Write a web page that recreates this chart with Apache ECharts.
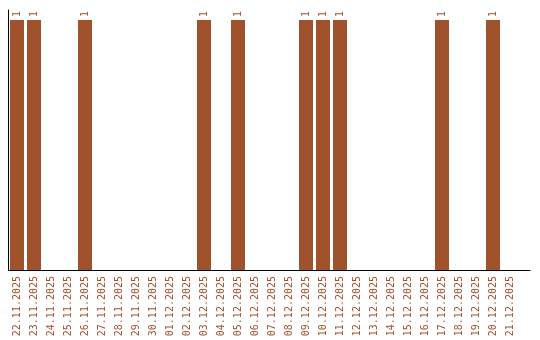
<!DOCTYPE html>
<html>
<head>
<meta charset="utf-8">
<script src="https://cdn.jsdelivr.net/npm/echarts@6/dist/echarts.min.js"></script>
<style>html,body{margin:0;padding:0;background:#fff;}#c{width:540px;height:340px;}</style>
</head>
<body>
<div id="c"></div>
<script>
var categories = ['22.11.2025','23.11.2025','24.11.2025','25.11.2025','26.11.2025','27.11.2025','28.11.2025','29.11.2025','30.11.2025','01.12.2025','02.12.2025','03.12.2025','04.12.2025','05.12.2025','06.12.2025','07.12.2025','08.12.2025','09.12.2025','10.12.2025','11.12.2025','12.12.2025','13.12.2025','14.12.2025','15.12.2025','16.12.2025','17.12.2025','18.12.2025','19.12.2025','20.12.2025','21.12.2025'];
var values = [1,1,0,0,1,0,0,0,0,0,0,1,0,1,0,0,0,1,1,1,0,0,0,0,0,1,0,0,1,0];

var color = '#A0522D';
var font = 'DejaVu Sans Mono';
var chart = echarts.init(document.getElementById('c'), null, {renderer: 'canvas'});
chart.setOption({
  animation: false,
  grid: [
    {left: 8.5, right: 21.5, top: 10, bottom: 70},
    {left: 8.5, right: 10, top: 10, bottom: 70}
  ],
  xAxis: [
    {
      type: 'category', gridIndex: 0, data: categories,
      axisLine: {show: true, lineStyle: {color: '#000', width: 1}},
      axisTick: {show: false},
      axisLabel: {rotate: 90, interval: 0, margin: 6, color: color, fontFamily: font, fontSize: 10}
    },
    {
      type: 'value', gridIndex: 1, min: 0, max: 1,
      axisLine: {show: true, onZero: false, lineStyle: {color: '#000', width: 1}},
      axisTick: {show: false}, axisLabel: {show: false}, splitLine: {show: false}
    }
  ],
  yAxis: [
    {
      type: 'value', gridIndex: 0, min: 0, max: 1.04,
      axisLine: {show: true, lineStyle: {color: '#000', width: 1}},
      axisTick: {show: false}, axisLabel: {show: false}, splitLine: {show: false}
    },
    {
      type: 'value', gridIndex: 1, min: 0, max: 1, show: false
    }
  ],
  series: [{
    type: 'bar', xAxisIndex: 0, yAxisIndex: 0,
    data: values,
    barWidth: 14,
    itemStyle: {color: color},
    label: {
      show: true, position: 'top', rotate: 90, align: 'left', verticalAlign: 'middle',
      distance: 3, color: color, fontFamily: font, fontSize: 10,
      formatter: function (p) { return p.value ? String(p.value) : ''; }
    }
  }]
});
</script>
</body>
</html>
